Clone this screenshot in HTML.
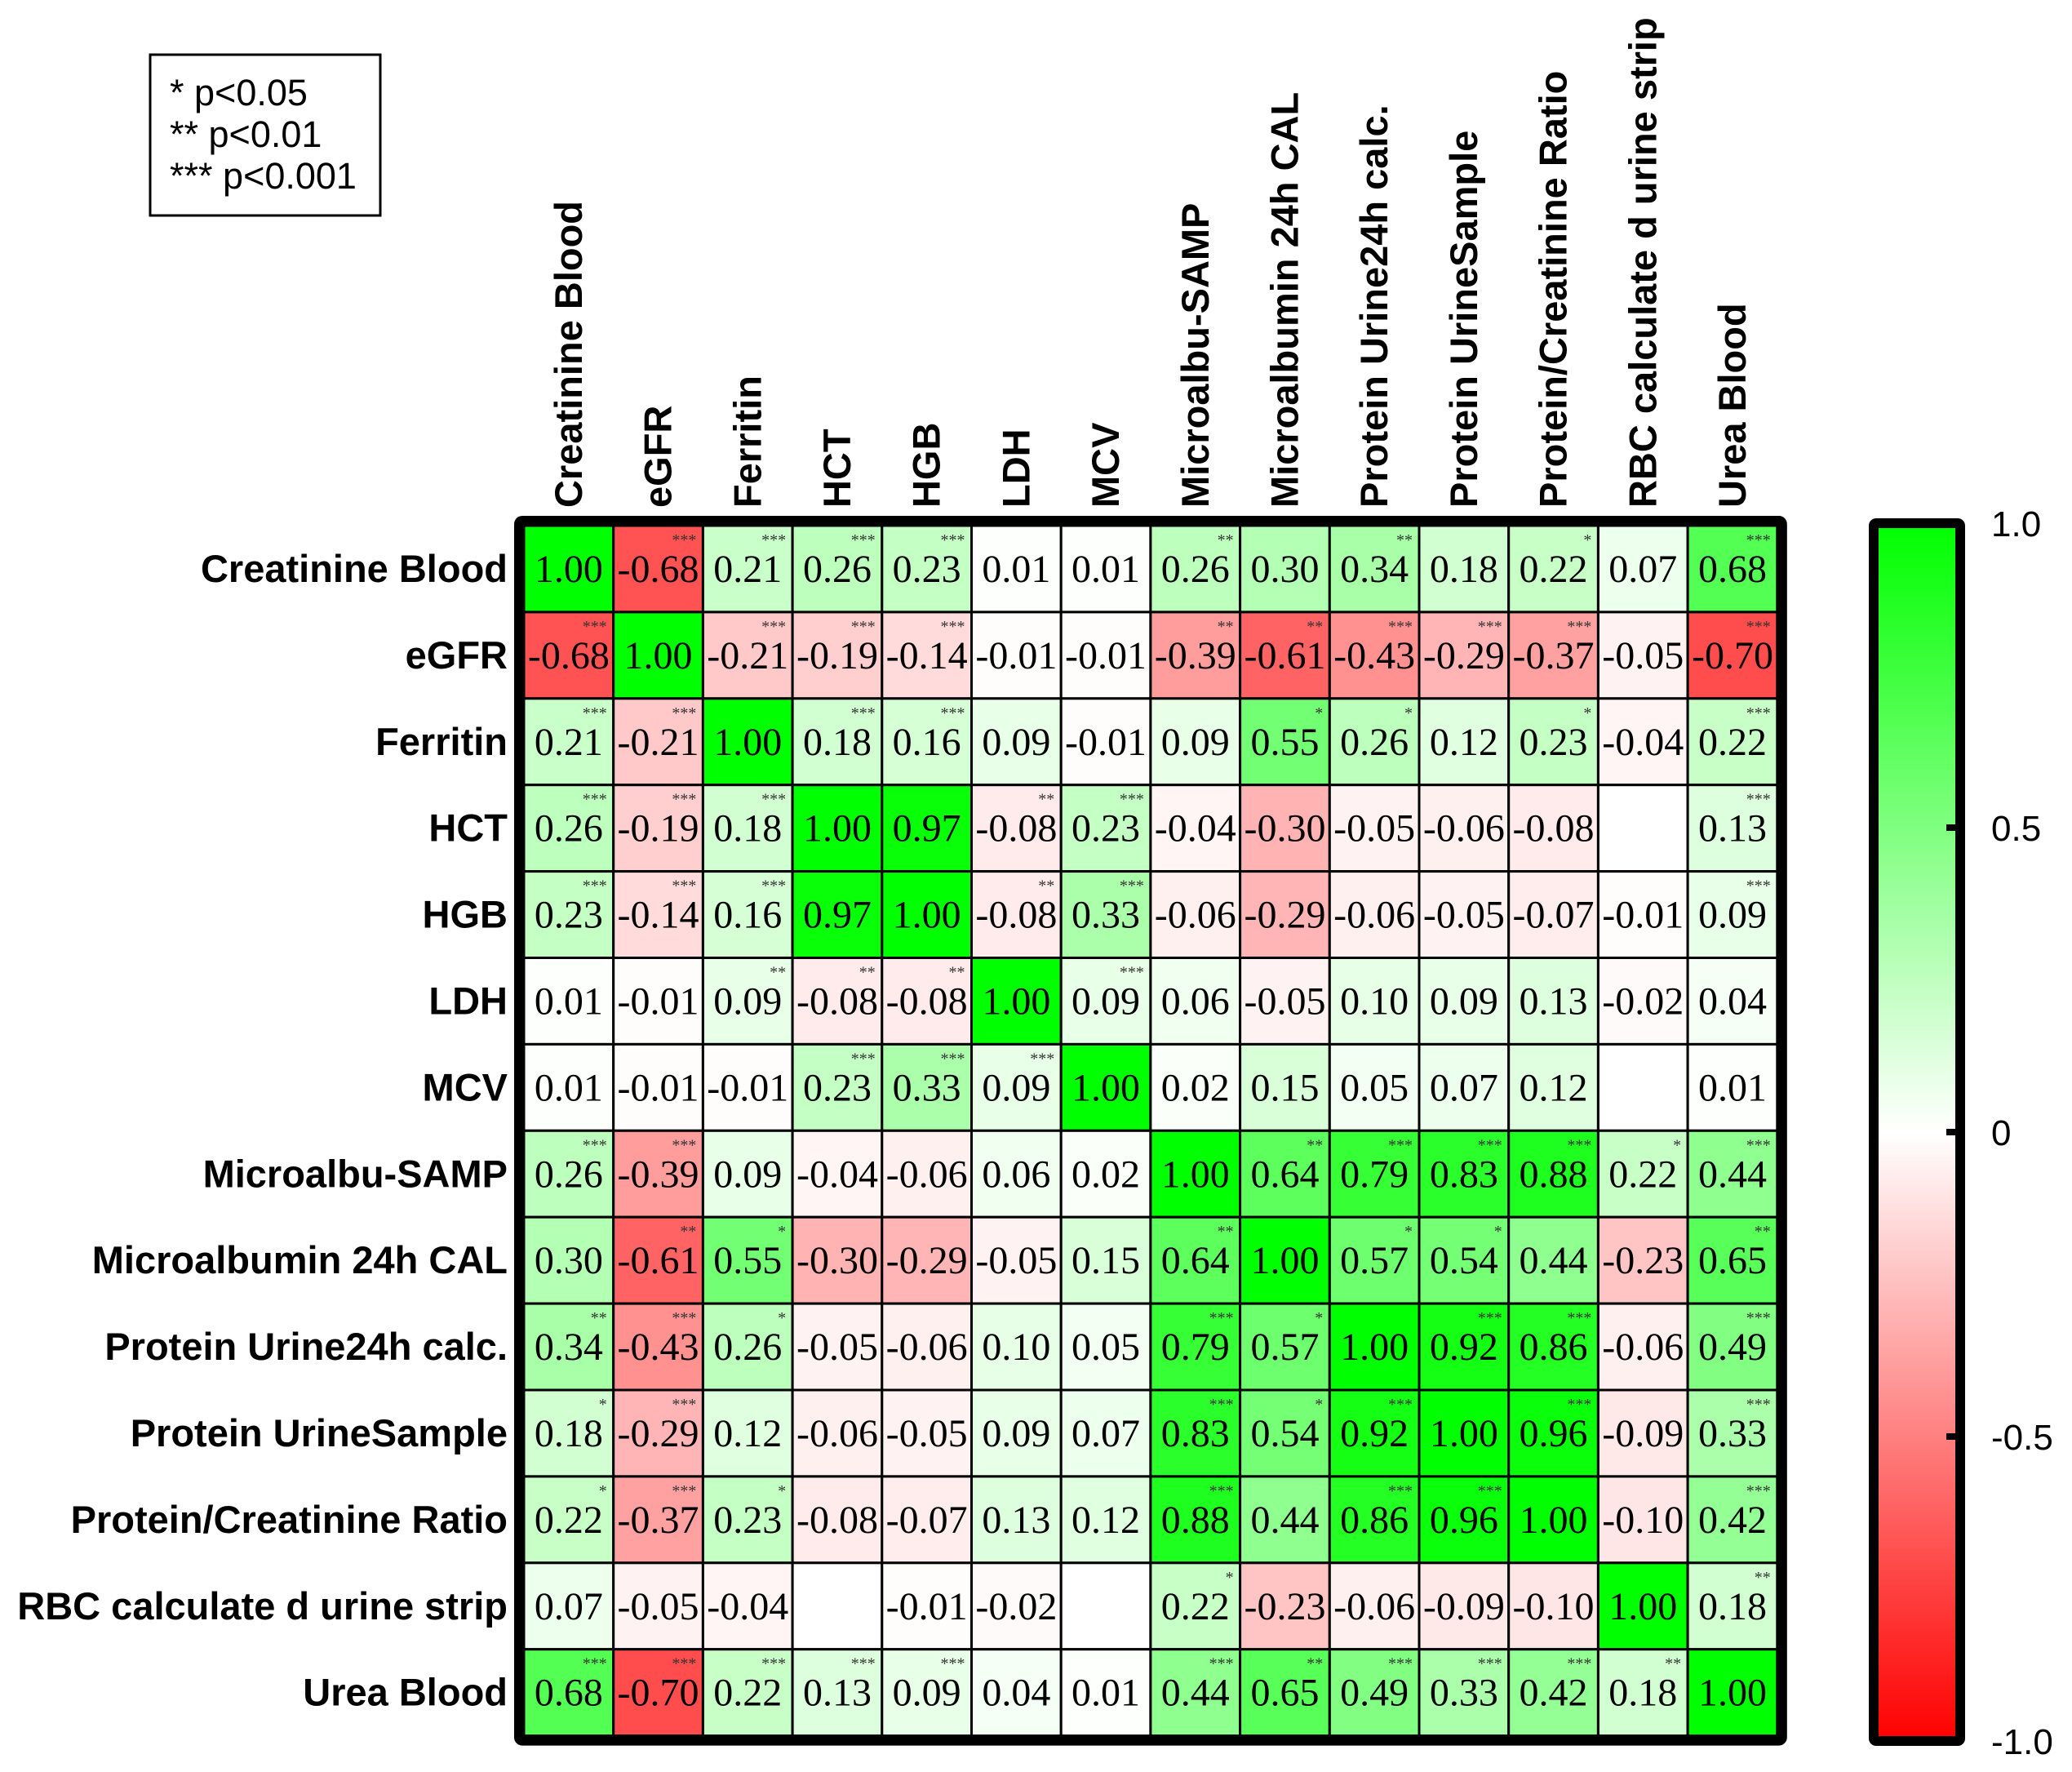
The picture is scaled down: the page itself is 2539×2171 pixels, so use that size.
<!DOCTYPE html>
<html><head><meta charset="utf-8"><style>
html,body{margin:0;padding:0;background:#fff;}
svg{display:block;}
</style></head><body>
<svg id="chart" width="2539" height="2171" viewBox="0 0 2539 2171" xmlns="http://www.w3.org/2000/svg">
<defs>
<linearGradient id="cbg" x1="0" y1="0" x2="0" y2="1">
<stop offset="0" stop-color="#00ff00"/><stop offset="0.5" stop-color="#ffffff"/><stop offset="1" stop-color="#ff0000"/>
</linearGradient>
</defs>
<g>
<rect x="184" y="67" width="282" height="197" fill="#fff" stroke="#000" stroke-width="3"/>
<text x="208" y="129" font-family="Liberation Sans, sans-serif" font-size="45">* p&lt;0.05</text>
<text x="208" y="180" font-family="Liberation Sans, sans-serif" font-size="45">** p&lt;0.01</text>
<text x="208" y="231" font-family="Liberation Sans, sans-serif" font-size="45">*** p&lt;0.001</text>
</g>
<g id="cells"></g>
<g id="labels"></g>
<g>
<rect x="2296" y="641" width="106" height="1492" fill="url(#cbg)" stroke="#000" stroke-width="12" rx="3"/>
<g id="cbticks"></g>
</g>
</svg>
<script>
const labels = ["Creatinine Blood","eGFR","Ferritin","HCT","HGB","LDH","MCV","Microalbu-SAMP","Microalbumin 24h CAL","Protein Urine24h calc.","Protein UrineSample","Protein/Creatinine Ratio","RBC calculate d urine strip","Urea Blood"];
const values = [
[1.00,-0.68,0.21,0.26,0.23,0.01,0.01,0.26,0.30,0.34,0.18,0.22,0.07,0.68],
[-0.68,1.00,-0.21,-0.19,-0.14,-0.01,-0.01,-0.39,-0.61,-0.43,-0.29,-0.37,-0.05,-0.70],
[0.21,-0.21,1.00,0.18,0.16,0.09,-0.01,0.09,0.55,0.26,0.12,0.23,-0.04,0.22],
[0.26,-0.19,0.18,1.00,0.97,-0.08,0.23,-0.04,-0.30,-0.05,-0.06,-0.08,null,0.13],
[0.23,-0.14,0.16,0.97,1.00,-0.08,0.33,-0.06,-0.29,-0.06,-0.05,-0.07,-0.01,0.09],
[0.01,-0.01,0.09,-0.08,-0.08,1.00,0.09,0.06,-0.05,0.10,0.09,0.13,-0.02,0.04],
[0.01,-0.01,-0.01,0.23,0.33,0.09,1.00,0.02,0.15,0.05,0.07,0.12,null,0.01],
[0.26,-0.39,0.09,-0.04,-0.06,0.06,0.02,1.00,0.64,0.79,0.83,0.88,0.22,0.44],
[0.30,-0.61,0.55,-0.30,-0.29,-0.05,0.15,0.64,1.00,0.57,0.54,0.44,-0.23,0.65],
[0.34,-0.43,0.26,-0.05,-0.06,0.10,0.05,0.79,0.57,1.00,0.92,0.86,-0.06,0.49],
[0.18,-0.29,0.12,-0.06,-0.05,0.09,0.07,0.83,0.54,0.92,1.00,0.96,-0.09,0.33],
[0.22,-0.37,0.23,-0.08,-0.07,0.13,0.12,0.88,0.44,0.86,0.96,1.00,-0.10,0.42],
[0.07,-0.05,-0.04,null,-0.01,-0.02,null,0.22,-0.23,-0.06,-0.09,-0.10,1.00,0.18],
[0.68,-0.70,0.22,0.13,0.09,0.04,0.01,0.44,0.65,0.49,0.33,0.42,0.18,1.00]];
const stars = [
[0,3,3,3,3,0,0,2,0,2,0,1,0,3],
[3,0,3,3,3,0,0,2,2,3,3,3,0,3],
[3,3,0,3,3,0,0,0,1,1,0,1,0,3],
[3,3,3,0,0,2,3,0,0,0,0,0,0,3],
[3,3,3,0,0,2,3,0,0,0,0,0,0,3],
[0,0,2,2,2,0,3,0,0,0,0,0,0,0],
[0,0,0,3,3,3,0,0,0,0,0,0,0,0],
[3,3,0,0,0,0,0,0,2,3,3,3,1,3],
[0,2,1,0,0,0,0,2,0,1,1,0,0,2],
[2,3,1,0,0,0,0,3,1,0,3,3,0,3],
[1,3,0,0,0,0,0,3,1,3,0,3,0,3],
[1,3,1,0,0,0,0,3,0,3,3,0,0,3],
[0,0,0,0,0,0,0,1,0,0,0,0,0,2],
[3,3,3,3,3,0,0,3,2,3,3,3,2,0]];
const cbTickValues = [1.0,0.5,0,-0.5,-1.0];
const cbTickLabels = ["1.0","0.5","0","-0.5","-1.0"];

const NS="http://www.w3.org/2000/svg";
const gx0=642, gy0=644, cw=109.7, rh=105.9, n=labels.length;
const xPos=i=>gx0+i*cw, yPos=j=>gy0+j*rh;
const cbTop=641, cbBot=2133;
const cbY=v=>cbTop+(1-v)/2*(cbBot-cbTop);
function color(v){
  if(v===null) return "#ffffff";
  const t=Math.min(1,Math.abs(v)); const w=Math.round(255*(1-t));
  return v>=0?`rgb(${w},255,${w})`:`rgb(255,${w},${w})`;
}
function mk(tag,attrs,parent){const e=document.createElementNS(NS,tag);for(const k in attrs)e.setAttribute(k,attrs[k]);parent.appendChild(e);return e;}
const cells=document.getElementById('cells');
for(let r=0;r<n;r++){for(let c=0;c<n;c++){
  const v=values[r][c];
  const rect=mk('rect',{x:xPos(c),y:yPos(r),width:cw,height:rh,fill:color(v),stroke:'#000','stroke-width':3},cells);
  
  
  if(v!==null){
    const t=mk('text',{x:xPos(c)+cw/2,y:yPos(r)+rh/2+16,'text-anchor':'middle','font-family':'Liberation Serif, serif','font-size':48},cells);
    t.textContent=v.toFixed(2);
    
    
  }
  if(stars[r][c]>0){
    const s=mk('text',{x:xPos(c)+cw-8,y:yPos(r)+24,'text-anchor':'end','font-family':'Liberation Serif, serif','font-size':20,fill:'#333'},cells);
    s.textContent='*'.repeat(stars[r][c]);
    
    
  }
}}
mk('rect',{x:gx0-6,y:gy0-6,width:n*cw+12,height:n*rh+12,fill:'none',stroke:'#000','stroke-width':12,rx:4},cells);
const lab=document.getElementById('labels');
labels.forEach((L,i)=>{
  const t=mk('text',{x:622,y:yPos(i)+rh/2+16,'text-anchor':'end','font-family':'Liberation Sans, sans-serif','font-weight':'bold','font-size':47},lab);
  t.textContent=L;
  
  
  const cx=xPos(i)+cw/2+16;
  const u=mk('text',{x:cx,y:622,'text-anchor':'start',transform:`rotate(-90 ${cx} 622)`,'font-family':'Liberation Sans, sans-serif','font-weight':'bold','font-size':47},lab);
  u.textContent=L;
  
  
});
const cbt=document.getElementById('cbticks');
cbTickValues.forEach((v,i)=>{
  const y=cbY(v);
  if(i>0&&i<cbTickValues.length-1){
    const l=mk('line',{x1:2385,x2:2408,y1:y,y2:y,stroke:'#000','stroke-width':8},cbt);
    
    
  }
  const t=mk('text',{x:2440,y:y+16,'font-family':'Liberation Sans, sans-serif','font-size':44},cbt);
  t.textContent=cbTickLabels[i];
  
  
});
</script>
</body></html>
